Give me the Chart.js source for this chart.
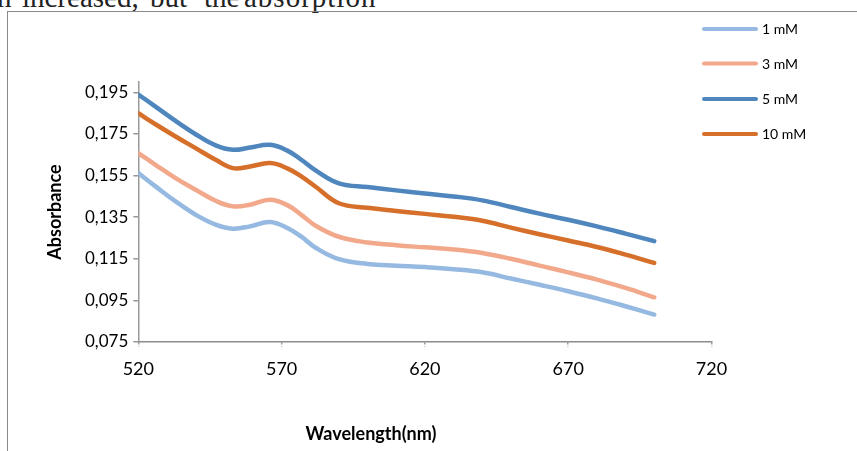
<!DOCTYPE html>
<html>
<head>
<meta charset="utf-8">
<script src="https://cdn.jsdelivr.net/npm/chart.js@4.4.1/dist/chart.umd.min.js"></script>
<style>
  html, body { margin: 0; padding: 0; background: #fff; overflow: hidden; }
  #wrap { position: relative; width: 857px; height: 451px; }
  #frame { position: absolute; left: 7px; top: 11px; width: 860px; height: 450px;
           border-left: 1.5px solid #8a8a8a; border-top: 1px solid #8a8a8a; }
  .w { position: absolute; top: -18px; font-family: "Liberation Serif", serif; font-size: 29px;
       line-height: 30px; color: #222; white-space: nowrap; }
  canvas { position: absolute; left: 0; top: 0; }
</style>
</head>
<body>
<div id="wrap">
  <span class="w" style="left:-3px">n</span>
  <span class="w" style="left:22px">increased,</span>
  <span class="w" style="left:150px">but</span>
  <span class="w" style="left:204px">the</span>
  <span class="w" style="left:244px; letter-spacing:1px">absorption</span>
  <div id="frame"></div>
  <canvas id="c" width="857" height="451"></canvas>
</div>
<script>
// ---- data ----
const wavelengths = [520, 526, 533, 540, 547, 553, 559, 566, 572, 577, 582, 590, 600, 610, 620, 630, 640, 650, 660, 670, 680, 690, 700];
const seriesLabels = ["1 mM", "3 mM", "5 mM", "10 mM"];
const abs1mM  = [0.1562, 0.1498, 0.1426, 0.1362, 0.1314, 0.1295, 0.1306, 0.1327, 0.1298, 0.1255, 0.1202, 0.1148, 0.1125, 0.1117, 0.1110, 0.1100, 0.1085, 0.1055, 0.1025, 0.0994, 0.0960, 0.0922, 0.0882];
const abs3mM  = [0.1658, 0.1602, 0.1538, 0.1482, 0.1429, 0.1402, 0.1410, 0.1434, 0.1408, 0.1360, 0.1308, 0.1256, 0.1228, 0.1215, 0.1205, 0.1195, 0.1178, 0.1150, 0.1117, 0.1085, 0.1050, 0.1010, 0.0965];
const abs5mM  = [0.1940, 0.1882, 0.1813, 0.1749, 0.1695, 0.1674, 0.1685, 0.1698, 0.1670, 0.1625, 0.1574, 0.1513, 0.1495, 0.1479, 0.1464, 0.1450, 0.1431, 0.1399, 0.1367, 0.1338, 0.1306, 0.1271, 0.1235];
const abs10mM = [0.1850, 0.1797, 0.1738, 0.1682, 0.1626, 0.1586, 0.1594, 0.1610, 0.1585, 0.1545, 0.1495, 0.1417, 0.1395, 0.1380, 0.1366, 0.1352, 0.1333, 0.1300, 0.1268, 0.1238, 0.1207, 0.1170, 0.1130];
const xTicks = [520, 570, 620, 670, 720];
const yTicks = [0.075, 0.095, 0.115, 0.135, 0.155, 0.175, 0.195];
const xTitle = "Wavelength(nm)";
const yTitle = "Absorbance";

const colors = ["#95b9e1", "#f2a88b", "#4e86bd", "#d66f2a"];
const seriesValues = [abs1mM, abs3mM, abs5mM, abs10mM];

const datasets = seriesLabels.map((lab, i) => ({
  label: lab,
  data: wavelengths.map((w, k) => ({ x: w, y: seriesValues[i][k] })),
  borderColor: colors[i],
  backgroundColor: colors[i],
  borderWidth: 4.5,
  pointRadius: 0,
  tension: 0.4,
  borderCapStyle: 'round',
  borderJoinStyle: 'round',
  fill: false
}));

const overlay = {
  id: 'overlay',
  afterDraw(chart) {
    const ctx = chart.ctx;
    ctx.save();
    // x-axis title
    ctx.fillStyle = '#000';
    ctx.font = 'bold 18px Lato';
    ctx.textAlign = 'center';
    ctx.textBaseline = 'alphabetic';
    ctx.fillText(xTitle, 371, 439.5);
    // legend
    const rows = [29, 63.5, 99, 134];
    chart.data.datasets.forEach((ds, i) => {
      ctx.strokeStyle = ds.borderColor;
      ctx.lineWidth = 4;
      ctx.lineCap = 'round';
      ctx.beginPath();
      ctx.moveTo(704, rows[i]);
      ctx.lineTo(756, rows[i]);
      ctx.stroke();
      ctx.fillStyle = '#000';
      ctx.font = '14px Lato';
      ctx.textAlign = 'left';
      ctx.textBaseline = 'middle';
      ctx.fillText(ds.label, 762, rows[i] + 0.5);
    });
    ctx.restore();
  }
};

new Chart(document.getElementById('c'), {
  type: 'line',
  data: { datasets },
  options: {
    responsive: false,
    animation: false,
    layout: { padding: { left: 0, top: 82, right: 145.5, bottom: 0 } },
    plugins: { legend: { display: false }, tooltip: { enabled: false } },
    scales: {
      x: {
        type: 'linear',
        min: 520, max: 720,
        afterFit(s) { s.height = 109; },
        afterBuildTicks(s) { s.ticks = xTicks.map(v => ({ value: v })); },
        ticks: { color: '#000', font: { family: 'Lato', size: 18 }, padding: 11, maxRotation: 0,
                 callback: v => String(v) },
        grid: { drawOnChartArea: false, drawTicks: true, tickLength: 5, color: '#999',
                tickBorderDash: [2, 2], lineWidth: 1.5 },
        border: { display: true, color: '#8c8c8c', width: 1.5, dash: [2, 1.5] }
      },
      y: {
        type: 'linear',
        min: 0.075, max: 0.2,
        afterFit(s) { s.width = 138.3; },
        afterBuildTicks(s) { s.ticks = yTicks.map(v => ({ value: v })); },
        ticks: { color: '#000', font: { family: 'Lato', size: 17 }, padding: 5,
                 callback: v => v.toFixed(3).replace('.', ',') },
        grid: { drawOnChartArea: false, drawTicks: true, tickLength: 5, color: '#999', lineWidth: 1.5 },
        border: { display: true, color: '#9a9a9a', width: 1.5 },
        title: { display: true, text: yTitle, color: '#000',
                 font: { family: 'Lato', size: 18, weight: 'bold' }, padding: { top: 44, bottom: 0 } }
      }
    }
  },
  plugins: [overlay]
});
</script>
</body>
</html>
